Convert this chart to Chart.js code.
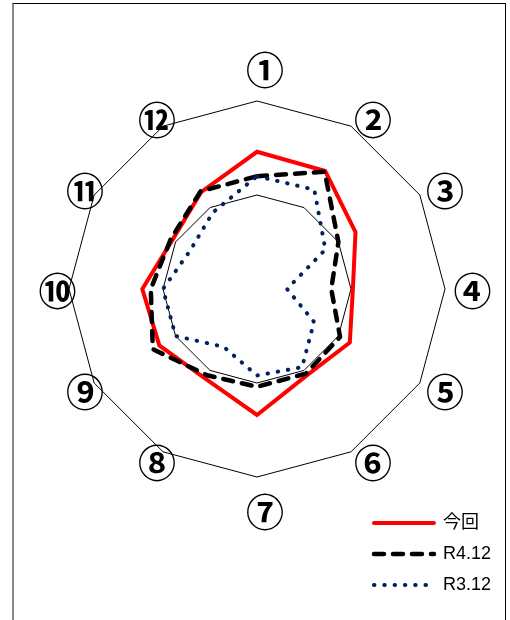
<!DOCTYPE html>
<html><head><meta charset="utf-8">
<script src="https://cdn.jsdelivr.net/npm/chart.js@4.4.0/dist/chart.umd.min.js"></script>
<style>
html,body{margin:0;padding:0;width:510px;height:620px;overflow:hidden;background:#fff;}
#frame{position:absolute;left:12px;top:3px;width:491px;height:700px;border-left:2px solid #888;border-top:1px solid #000;border-right:1px solid #000;}
#c{position:absolute;left:0;top:0;}
</style></head><body>
<div id="frame"></div>
<canvas id="c" width="510" height="620"></canvas>
<script>
// ---- data ----
const categories = ['①','②','③','④','⑤','⑥','⑦','⑧','⑨','⑩','⑪','⑫'];
const seriesNames = ['今回','R4.12','R3.12'];
const currentValues = [73, 72.5, 60.5, 51, 57, 53, 67, 55, 60, 61, 52, 59.5];
const r412Values    = [60, 72, 50, 39.5, 51, 52, 52, 53, 64, 56.5, 53, 60];
const r312Values    = [60, 61, 42, 16, 35, 48, 46, 35.5, 50, 50, 41, 47];
const scaleMin = 0, scaleMax = 100, scaleStep = 50;

// ---- layout / style ----
const CENTER_X = 257, CENTER_Y = 289, RADIUS = 188;
const LABEL_SHIFT = {x: 8, y: 2};
const LABEL_PADDING = [25.5, -10, -2, 0.5, -2, -10, 25.5, -10, -2, 0.5, -2, -10];
const LABEL_LINE_HEIGHT = [15, 35, 15, 15, 15, 35, 15, 35, 15, 15, 15, 35];

const geometry = {
  id: 'geometry',
  afterLayout(chart) {
    const s = chart.scales.r;
    const dx = CENTER_X - s.xCenter, dy = CENTER_Y - s.yCenter, dr = RADIUS - s.drawingArea;
    s.xCenter = CENTER_X; s.yCenter = CENTER_Y; s.drawingArea = RADIUS;
    (s._pointLabelItems || []).forEach((it, i) => {
      const a = s.getIndexAngle(i) - Math.PI / 2;
      const ox = dx + dr * Math.cos(a) + LABEL_SHIFT.x;
      const oy = dy + dr * Math.sin(a) + LABEL_SHIFT.y;
      it.x += ox; it.left += ox; it.right += ox;
      it.y += oy; it.top += oy; it.bottom += oy;
    });
  }
};

new Chart(document.getElementById('c'), {
  type: 'radar',
  data: {
    labels: categories,
    datasets: [
      { label: seriesNames[0], data: currentValues, borderColor: '#FF0000', backgroundColor: '#FF0000',
        borderWidth: 4, borderCapStyle: 'round', fill: false, pointRadius: 0, borderJoinStyle: 'miter', order: 3, clip: false },
      { label: seriesNames[1], data: r412Values, borderColor: '#000000', backgroundColor: '#000000',
        borderWidth: 4.5, borderDash: [10, 9], borderCapStyle: 'round', borderJoinStyle: 'round',
        fill: false, pointRadius: 0, order: 2, clip: false },
      { label: seriesNames[2], data: r312Values, borderColor: '#002060', backgroundColor: '#002060',
        borderWidth: 4, borderDash: [0.5, 9.8], borderCapStyle: 'round', borderJoinStyle: 'round',
        fill: false, pointRadius: 0, order: 1, clip: false }
    ]
  },
  options: {
    responsive: false,
    animation: false,
    devicePixelRatio: 1,
    layout: { padding: { right: 9, bottom: 13, top: 10, left: 20 } },
    scales: {
      r: {
        min: scaleMin, max: scaleMax,
        ticks: { display: false, stepSize: scaleStep },
        angleLines: { display: false },
        grid: { color: '#000000', lineWidth: 1 },
        pointLabels: {
          padding: (ctx) => LABEL_PADDING[ctx.index],
          color: '#000000',
          font: (ctx) => ({ family: "'Noto Sans CJK JP', sans-serif", size: 38, weight: 'bold',
                            lineHeight: LABEL_LINE_HEIGHT[ctx.index] + 'px' })
        }
      }
    },
    plugins: {
      tooltip: { enabled: false },
      legend: {
        position: 'right', align: 'end',
        labels: {
          usePointStyle: true, pointStyle: 'line', pointStyleWidth: 60, boxHeight: 18,
          padding: 13, color: '#000000',
          font: { family: "'Liberation Sans', 'Noto Sans CJK JP', sans-serif", size: 18 },
          sort: (a, b) => a.datasetIndex - b.datasetIndex,
          generateLabels(chart) {
            const items = Chart.defaults.plugins.legend.labels.generateLabels(chart);
            items.forEach(it => {
              const ds = chart.data.datasets[it.datasetIndex];
              it.lineDash = ds.borderDash || [];
              it.lineCap = ds.borderCapStyle || 'butt';
              it.lineWidth = ds.borderWidth;
              it.strokeStyle = ds.borderColor;
              it.pointStyle = 'line';
            });
            return items;
          }
        }
      }
    }
  },
  plugins: [geometry]
});
</script>
</body></html>
